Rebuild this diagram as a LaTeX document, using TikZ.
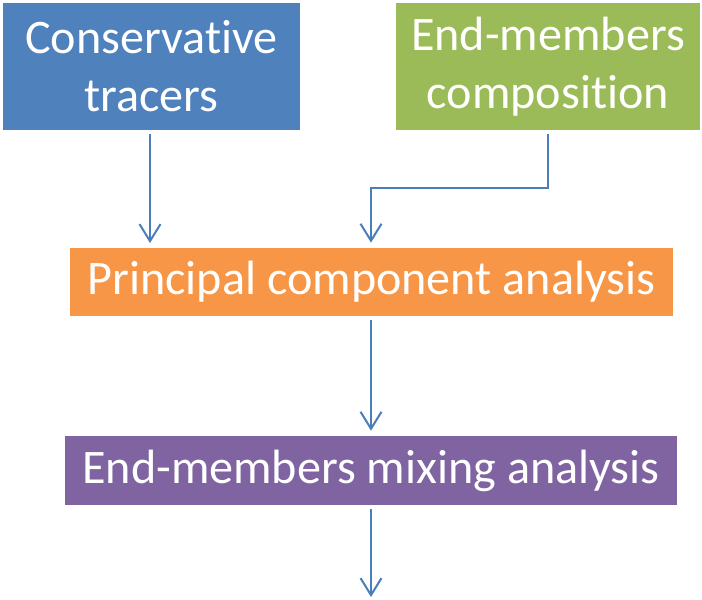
\documentclass[tikz,border=0pt]{standalone}
\usepackage{fontspec}
\setmainfont[Ligatures=NoCommon]{Carlito}
\usetikzlibrary{arrows.meta}

\definecolor{tracerblue}{HTML}{4F81BD}
\definecolor{membergreen}{HTML}{9BBB59}
\definecolor{pcaorange}{HTML}{F79646}
\definecolor{emmapurple}{HTML}{8064A2}
\definecolor{linkblue}{HTML}{4A7EBB}

\begin{document}
\begin{tikzpicture}[x=0.02cm, y=-0.02cm,
  box/.style={rectangle, inner sep=0pt, text=white, align=center,
    font=\fontsize{27.4}{33}\selectfont},
  link/.style={draw=linkblue, line width=0.04cm,
    -{Straight Barb[length=0.34cm, width=0.42cm, line width=0.04cm]},
    shorten <=0.08cm, shorten >=0.1cm}]
% Page size
\useasboundingbox (0,0) rectangle (702,599);

% The four boxes
\node[box, fill=tracerblue, minimum width=5.94cm, minimum height=2.54cm] (tracers) at (151.5,66.5) {Conservative\\tracers};
\node[box, fill=membergreen, minimum width=6.10cm, minimum height=2.54cm] (members) at (548,66.5) {End-members\\composition};
\node[box, fill=pcaorange, minimum width=12.06cm, minimum height=1.36cm] (pca) at (371.5,282) {\raisebox{-2pt}{Principal component analysis}};
\node[box, fill=emmapurple, minimum width=12.24cm, minimum height=1.38cm] (emma) at (371,470.5) {\raisebox{-2pt}{End-members mixing analysis}};

% Connectors
\coordinate (bend) at (371,188);
\coordinate (out) at (371,597);
\draw[link] (tracers.south -| 150,0) -- (150,248);
\draw[link] (members.south) |- (bend) -- (bend |- pca.north);
\draw[link] (pca.south -| bend) -- (bend |- emma.north);
\draw[link, shorten >=0pt] (emma.south -| out) -- (out);
\end{tikzpicture}
\end{document}
